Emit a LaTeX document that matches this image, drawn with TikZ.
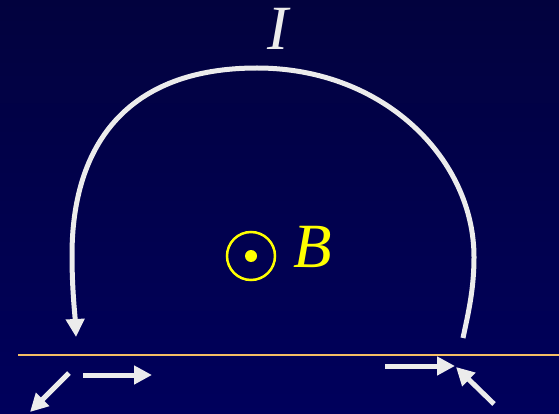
\documentclass[tikz,border=0pt]{standalone}
\usepackage{fontspec}
\setmainfont{Liberation Serif}
\usetikzlibrary{arrows.meta}
\definecolor{bgtop}{RGB}{2,2,62}
\definecolor{bgbot}{RGB}{0,0,92}
\definecolor{wirec}{RGB}{236,236,236}
\definecolor{linec}{RGB}{245,190,100}
\definecolor{byellow}{RGB}{255,255,0}
\begin{document}
\begin{tikzpicture}[x=1pt,y=-1pt,
  wire/.style={draw=wirec,line width=5pt},
  farrow/.style={draw=wirec,line width=5pt,-{Triangle[length=18pt,width=18pt]}},
  lbl/.style={inner sep=0pt,font=\fontsize{63}{63}\selectfont\itshape}]
\shade[top color=bgtop,bottom color=bgbot] (0,0) rectangle (559,414);
\useasboundingbox (0,0) rectangle (559,414);
% current loop
\coordinate (rend) at (463,338);
\coordinate (rmax) at (474,257);
\coordinate (top) at (257,68);
\coordinate (lmin) at (72,255);
\coordinate (ltip) at (76,337);
\draw[farrow] (rend) .. controls (468,314) and (474,290) .. (rmax)
  .. controls (474,160) and (385,68) .. (top)
  .. controls (127,68) and (72,145) .. (lmin)
  .. controls (72,290) and (75,315) .. (ltip);
\node[lbl,text=wirec] (I) at (278,29) {I};
% field
\node[circle,draw=byellow,line width=2.5pt,minimum size=48pt,inner sep=0pt] (circ) at (251,256) {};
\fill[byellow] (circ.center) circle (6pt);
\node[lbl,text=byellow] (B) at (313,247) {B};
% interface
\coordinate (la) at (18,355);
\coordinate (lb) at (559,355);
\draw[linec,line width=2.5pt] (la) -- (lb);
% bottom arrows
\coordinate (d1s) at (69,373);
\coordinate (d1e) at (30,412);
\coordinate (h1s) at (83,375);
\coordinate (h1e) at (152,375);
\coordinate (h2s) at (385,366);
\coordinate (h2e) at (455,366);
\coordinate (d2s) at (494,404);
\coordinate (d2e) at (456,367);
\draw[farrow] (d1s) -- (d1e);
\draw[farrow] (h1s) -- (h1e);
\draw[farrow] (h2s) -- (h2e);
\draw[farrow] (d2s) -- (d2e);
\end{tikzpicture}
\end{document}
